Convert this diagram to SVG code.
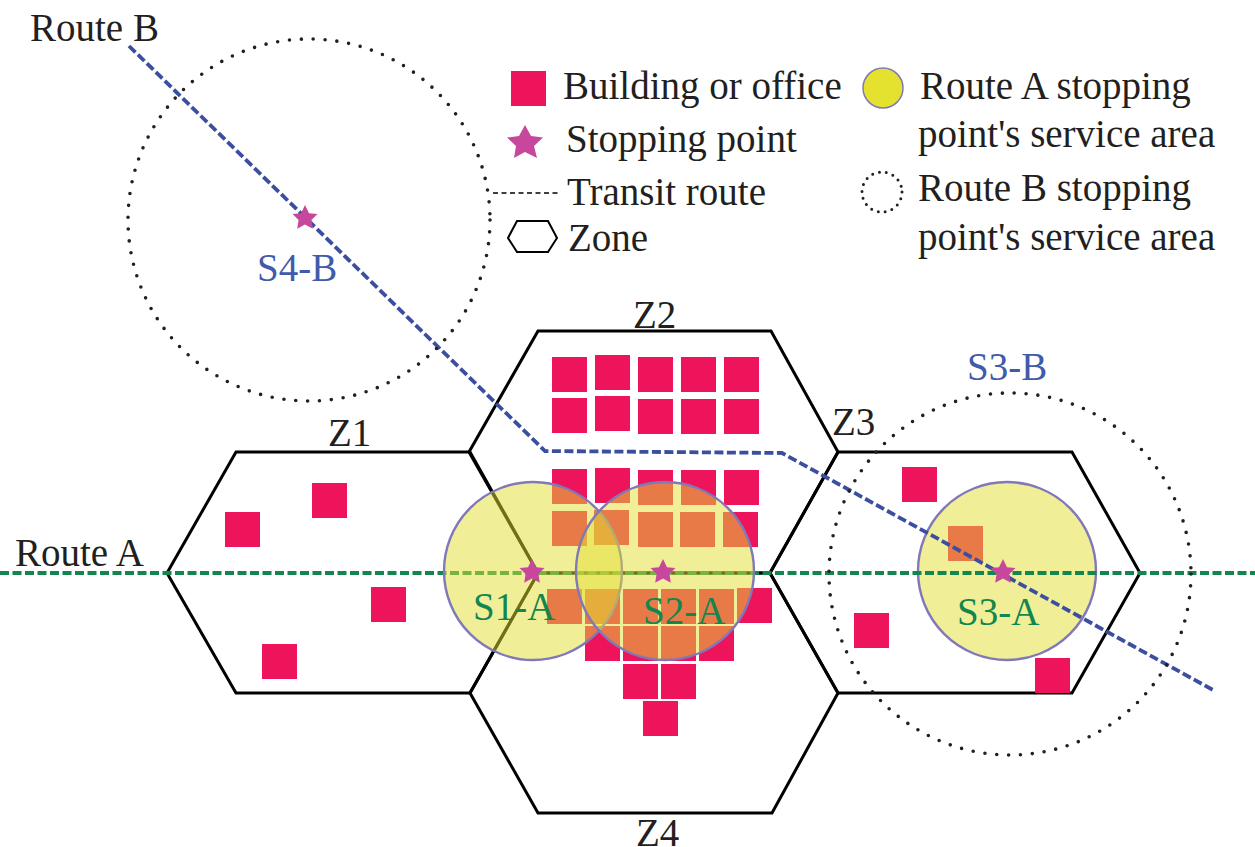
<svg xmlns="http://www.w3.org/2000/svg" width="1255" height="847" viewBox="0 0 1255 847">
<style>
text{font-family:"Liberation Serif","Times New Roman",serif;font-size:39px;fill:#231f20}
.g{fill:#13854f}.b{fill:#3f5ba9}
.hex{fill:none;stroke:#000;stroke-width:3;stroke-linejoin:miter}
.sq{fill:#ed145b}
.sa{fill:#e2e032;fill-opacity:.5;stroke:#8078b8;stroke-width:2.400}
.dot{fill:none;stroke:#231f20;stroke-width:3.600;stroke-dasharray:0 11.9;stroke-linecap:round}
.ra{fill:none;stroke:#13854f;stroke-width:3.800;stroke-dasharray:9 3.500}
.rb{fill:none;stroke:#3b4ea0;stroke-width:3.800;stroke-dasharray:9 3.500}
.st{fill:#c6479b}
</style>
<defs>
<rect id="s" class="sq" width="35" height="35"/>
<polygon id="star" class="st" points="0,-13 4,-4.800 12.500,-4 6.400,2 7.800,10.700 0,6.600 -7.800,10.700 -6.400,2 -12.500,-4 -4,-4.800"/>
</defs>
<g id="zones">
<g id="z1"><polygon class="hex" points="167,573 236,452 470,452 538,573 470,693 236,693"/></g>
<g id="z2"><polygon class="hex" points="469,452 538,331 771,331 838,452 770,573 538,573"/></g>
<g id="z3"><polygon class="hex" points="770,573 838,452 1072,452 1140,573 1072,693 838,693"/></g>
<g id="z4"><polygon class="hex" points="470,693 538,573 770,573 838,693 772,813 538,813"/></g>
</g>
<g id="buildings">
<use href="#s" x="225" y="512"/><use href="#s" x="312" y="483"/><use href="#s" x="371" y="587"/><use href="#s" x="262" y="644"/>
<use href="#s" x="552" y="357"/><use href="#s" x="595" y="355"/><use href="#s" x="638" y="357"/><use href="#s" x="681" y="357"/><use href="#s" x="724" y="357"/>
<use href="#s" x="552" y="398"/><use href="#s" x="595" y="396"/><use href="#s" x="638" y="399"/><use href="#s" x="681" y="399"/><use href="#s" x="724" y="399"/>
<use href="#s" x="552" y="469"/><use href="#s" x="595" y="468"/><use href="#s" x="638" y="470"/><use href="#s" x="681" y="470"/><use href="#s" x="724" y="470"/>
<use href="#s" x="552" y="511"/><use href="#s" x="594" y="510"/><use href="#s" x="638" y="512"/><use href="#s" x="680" y="512"/><use href="#s" x="723" y="512"/>
<use href="#s" x="547" y="589"/><use href="#s" x="585" y="589"/><use href="#s" x="623" y="589"/><use href="#s" x="661" y="589"/><use href="#s" x="699" y="589"/><use href="#s" x="737" y="588"/>
<use href="#s" x="585" y="626"/><use href="#s" x="623" y="626"/><use href="#s" x="661" y="626"/><use href="#s" x="699" y="626"/>
<use href="#s" x="623" y="664"/><use href="#s" x="661" y="664"/><use href="#s" x="643" y="701"/>
<use href="#s" x="902" y="467"/><use href="#s" x="948" y="526"/><use href="#s" x="854" y="613"/><use href="#s" x="1035" y="658"/>
</g>
<circle id="s3-area" class="sa" cx="1007" cy="571" r="89"/>
<g id="connectors">
<polyline id="route-a" class="ra" points="0,573 1255,573"/>
<polyline id="route-b" class="rb" points="129,46 545,451 782,453 1213,690"/>
</g>
<g id="service-areas">
<circle id="s1-area" class="sa" cx="533" cy="571" r="89"/>
<circle id="s2-area" class="sa" cx="665" cy="571" r="89"/>
<circle id="s3b-area" class="dot" cx="1010" cy="574" r="181"/>
<circle id="s4b-area" class="dot" cx="309" cy="220" r="181"/>
</g>
<g id="stops">
<g id="s1"><use href="#star" x="532" y="572"/><text class="g" x="473" y="620">S1-A</text></g>
<g id="s2"><use href="#star" x="663" y="572"/><text class="g" x="643" y="624">S2-A</text></g>
<g id="s3"><use href="#star" x="1003" y="572"/><text class="g" x="957" y="625">S3-A</text></g>
<g id="s4"><use href="#star" x="305" y="218"/><text class="b" x="257" y="281">S4-B</text></g>
<text class="b" x="967" y="380">S3-B</text>
</g>
<g id="labels">
<text x="30" y="41">Route B</text>
<text x="15" y="566">Route A</text>
<text x="328" y="446">Z1</text>
<text x="633" y="328">Z2</text>
<text x="832" y="435">Z3</text>
<text x="636" y="846">Z4</text>
</g>
<g id="legend">
<rect class="sq" x="511" y="71" width="35" height="35"/>
<polygon class="st" points="525,125 531,136 543,137.500 534,146 537,158 525,152 514,158 516,146 507,137.500 519,136"/>
<line x1="493" y1="193" x2="560" y2="193" stroke="#000" stroke-width="1.500" stroke-dasharray="5 3.500"/>
<polygon points="508,238 517,221 548,221 557,238 548,252 517,252" fill="none" stroke="#000" stroke-width="2"/>
<circle cx="883" cy="88" r="20" fill="#e4e22f" stroke="#8078b8" stroke-width="1.500"/>
<circle cx="882" cy="192" r="20" fill="none" stroke="#231f20" stroke-width="3" stroke-dasharray="0 7" stroke-linecap="round"/>
<text x="563" y="99">Building or office</text>
<text x="566" y="152">Stopping point</text>
<text x="567" y="205">Transit route</text>
<text x="568" y="251">Zone</text>
<text x="920" y="99">Route A stopping</text>
<text x="918" y="147">point's service area</text>
<text x="918" y="201">Route B stopping</text>
<text x="918" y="250">point's service area</text>
</g>
</svg>
